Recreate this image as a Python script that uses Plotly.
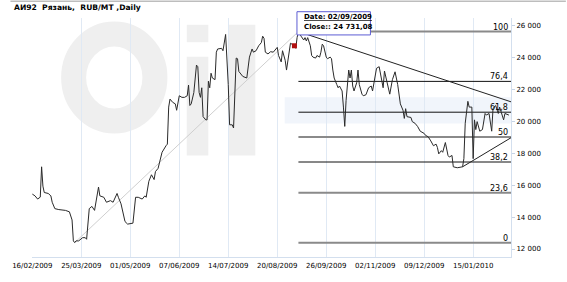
import plotly.graph_objects as go
from datetime import datetime

# ---------------- data ----------------
title_text = "АИ92\u00a0 Рязань,\u00a0 RUB/MT ,Daily"

dates = [
    "2009-02-16", "2009-02-18", "2009-02-20", "2009-02-22", "2009-02-23", "2009-02-24", "2009-02-25",
    "2009-02-28", "2009-03-02", "2009-03-03", "2009-03-05", "2009-03-08", "2009-03-13", "2009-03-16",
    "2009-03-18", "2009-03-19", "2009-03-20", "2009-03-21", "2009-03-23", "2009-03-26", "2009-03-28",
    "2009-03-29", "2009-03-31", "2009-04-02", "2009-04-04", "2009-04-06", "2009-04-07", "2009-04-08",
    "2009-04-11", "2009-04-13", "2009-04-16", "2009-04-18", "2009-04-21", "2009-04-22", "2009-04-24",
    "2009-04-27", "2009-04-29", "2009-05-03", "2009-05-05", "2009-05-07", "2009-05-10", "2009-05-12",
    "2009-05-13", "2009-05-15", "2009-05-17", "2009-05-19", "2009-05-20", "2009-05-22", "2009-05-23",
    "2009-05-25", "2009-05-28", "2009-05-29", "2009-05-30", "2009-05-31", "2009-06-02", "2009-06-04",
    "2009-06-05", "2009-06-07", "2009-06-09", "2009-06-11", "2009-06-13", "2009-06-14", "2009-06-15",
    "2009-06-16", "2009-06-18", "2009-06-20", "2009-06-21", "2009-06-22", "2009-06-23", "2009-06-24",
    "2009-06-25", "2009-06-27", "2009-06-28", "2009-06-29", "2009-06-30", "2009-07-01", "2009-07-02",
    "2009-07-04", "2009-07-05", "2009-07-06", "2009-07-09", "2009-07-10", "2009-07-12", "2009-07-13",
    "2009-07-14", "2009-07-15", "2009-07-17", "2009-07-18", "2009-07-20", "2009-07-21", "2009-07-22",
    "2009-07-25", "2009-07-27", "2009-07-28", "2009-07-30", "2009-08-01", "2009-08-02", "2009-08-04",
    "2009-08-06", "2009-08-08", "2009-08-09", "2009-08-10", "2009-08-11", "2009-08-13", "2009-08-15",
    "2009-08-17", "2009-08-19", "2009-08-20", "2009-08-21", "2009-08-23", "2009-08-24", "2009-08-26",
    "2009-08-27", "2009-08-29", "2009-08-30", "2009-09-02", "2009-09-03", "2009-09-04", "2009-09-05",
    "2009-09-07", "2009-09-09", "2009-09-10", "2009-09-11", "2009-09-12", "2009-09-14", "2009-09-15",
    "2009-09-16", "2009-09-18", "2009-09-19", "2009-09-21", "2009-09-22", "2009-09-23", "2009-09-24",
    "2009-09-26", "2009-09-27", "2009-09-29", "2009-09-30", "2009-10-01", "2009-10-02", "2009-10-04",
    "2009-10-05", "2009-10-06", "2009-10-08", "2009-10-09", "2009-10-10", "2009-10-11", "2009-10-12",
    "2009-10-13", "2009-10-14", "2009-10-15", "2009-10-16", "2009-10-17", "2009-10-19", "2009-10-20",
    "2009-10-21", "2009-10-23", "2009-10-24", "2009-10-26", "2009-10-28", "2009-10-30", "2009-10-31",
    "2009-11-02", "2009-11-03", "2009-11-05", "2009-11-06", "2009-11-08", "2009-11-09", "2009-11-11",
    "2009-11-13", "2009-11-15", "2009-11-17", "2009-11-19", "2009-11-20", "2009-11-21", "2009-11-23",
    "2009-11-24", "2009-11-25", "2009-11-26", "2009-11-29", "2009-11-30", "2009-12-02", "2009-12-04",
    "2009-12-06", "2009-12-09", "2009-12-10", "2009-12-12", "2009-12-14", "2009-12-16", "2009-12-18",
    "2009-12-19", "2009-12-20", "2009-12-22", "2009-12-23", "2009-12-25", "2009-12-27", "2009-12-28",
    "2009-12-30", "2009-12-31", "2010-01-03", "2010-01-07", "2010-01-08", "2010-01-09", "2010-01-11",
    "2010-01-12", "2010-01-14", "2010-01-15", "2010-01-16", "2010-01-17", "2010-01-18", "2010-01-20",
    "2010-01-22", "2010-01-24", "2010-01-25", "2010-01-27", "2010-01-29", "2010-01-30", "2010-02-01",
    "2010-02-03", "2010-02-04", "2010-02-06", "2010-02-07", "2010-02-08", "2010-02-11",
]

closes = [
    15440, 15330, 15130, 15250, 17150, 15940, 15540,
    15480, 15330, 14930, 14530, 14470, 14420, 14330,
    13820, 12510, 12400, 12510, 12510, 12710, 12710,
    12610, 14530, 14670, 14420, 15440, 15880, 15330,
    15240, 14930, 15030, 14930, 15480, 15240, 14830,
    13720, 13560, 13620, 15240, 15240, 15130, 15330,
    15240, 16240, 16650, 16350, 16850, 17050, 17450,
    18060, 18470, 18570, 20890, 21390, 21190, 21090,
    20690, 21600, 21500, 21500, 21600, 22270, 20990,
    21090, 21800, 23520, 23420, 21800, 21500, 22100,
    20290, 20090, 20090, 22510, 22100, 23010, 22710,
    22610, 24330, 24530, 24570, 24420, 25440, 24120,
    22300, 19780, 19780, 19580, 23960, 23920, 23120,
    22810, 22710, 22710, 24020, 24530, 24330, 24420,
    24730, 24930, 25330, 25200, 24330, 24220, 24360,
    24330, 24530, 24630, 24120, 23720, 24420, 23820,
    23210, 24420, 24890, 24731.08, 24570, 25240, 25620,
    25330, 25090, 25240, 25030, 25240, 24730, 24120,
    24020, 23960, 24120, 24020, 24330, 24830, 24730,
    24020, 23920, 24020, 23920, 23210, 22710, 22300,
    22100, 22210, 21900, 20890, 19680, 21300, 22100,
    23210, 22710, 23210, 22210, 21900, 22410, 23210,
    22300, 21700, 21600, 21660, 22100, 22210, 21900,
    23010, 23320, 23420, 22910, 22100, 23150, 22510,
    21700, 22610, 23100, 22300, 21700, 21090, 20690,
    20180, 20790, 20290, 20240, 19980, 19880, 19680,
    19380, 19240, 19120, 19030, 18770, 18470, 18570,
    18360, 17960, 18160, 18060, 18670, 17860, 17760,
    17860, 17150, 17090, 17150, 17660, 19880, 21250,
    20890, 20890, 17660, 20090, 19480, 19980, 19380,
    19480, 20490, 20390, 20490, 19380, 20790, 20990,
    20490, 20890, 20390, 20090, 20490, 20390,
]

tick_dates = ["2009-02-16", "2009-03-25", "2009-05-01", "2009-06-07", "2009-07-14",
              "2009-08-20", "2009-09-26", "2009-11-02", "2009-12-09", "2010-01-15"]
tick_labels = ["16/02/2009", "25/03/2009", "01/05/2009", "07/06/2009", "14/07/2009",
               "20/08/2009", "26/09/2009", "02/11/2009", "09/12/2009", "15/01/2010"]
y_ticks = [12000, 14000, 16000, 18000, 20000, 22000, 24000, 26000]

fib_ratios = [0.0, 0.236, 0.382, 0.5, 0.618, 0.764, 1.0]
fib_labels = ["0", "23,6", "38,2", "50", "61,8", "76,4", "100"]

hover_date = "2009-09-02"
upper_trend_dates = ["2009-09-05", "2010-02-12 14:00"]
upper_trend_vals = [25620, 21220]
lower_trend_dates = ["2010-01-07", "2010-02-12 14:00"]
lower_trend_vals = [17150, 18970]

x_range = ["2009-02-15 18:00", "2010-02-12 14:00"]
y_range = [11500, 26470]

# ---------------- layout helpers ----------------
W, H = 567, 282
ML, MR, MT, MB = 22, 56, 18, 17
PW, PH = W - ML - MR, H - MT - MB

def px(x):
    return (x - ML) / PW

def py(y):
    return (H - MB - y) / PH

FONT = "DejaVu Sans"

lo_i = closes.index(min(closes))
hi_i = closes.index(max(closes))
lo, hi = closes[lo_i], closes[hi_i]
fib_levels = [lo + r * (hi - lo) for r in fib_ratios]

fig = go.Figure()

# low-to-high guide line
fig.add_trace(go.Scatter(x=[dates[lo_i], dates[hi_i]], y=[lo, hi], mode="lines",
                         line=dict(color="#cfcfcf", width=1), hoverinfo="skip"))

# fibonacci levels
for lvl, lab in zip(fib_levels, fib_labels):
    thick = lab in ("0", "23,6", "50", "100")
    fig.add_trace(go.Scatter(x=[dates[hi_i], x_range[1]], y=[lvl, lvl], mode="lines",
                             line=dict(color="#8a8a8a" if thick else "#111111",
                                       width=2 if thick else 1),
                             hoverinfo="skip"))
    fig.add_annotation(x=1, xref="paper", y=lvl, yref="y", text=lab, showarrow=False,
                       xanchor="right", yanchor="bottom", xshift=-1, yshift=-2,
                       font=dict(family=FONT, size=8, color="#000"))

# trend lines
fig.add_trace(go.Scatter(x=upper_trend_dates, y=upper_trend_vals, mode="lines",
                         line=dict(color="#222", width=1), hoverinfo="skip"))
fig.add_trace(go.Scatter(x=lower_trend_dates, y=lower_trend_vals, mode="lines",
                         line=dict(color="#222", width=1), hoverinfo="skip"))

# price line
fig.add_trace(go.Scatter(x=dates, y=closes, mode="lines",
                         line=dict(color="#2a2a2a", width=1)))

# hover marker
hv = closes[dates.index(hover_date)]
fig.add_trace(go.Scatter(x=[hover_date], y=[hv], mode="markers",
                         marker=dict(symbol="square", size=5, color="#b01010")))

# tooltip
d = datetime.strptime(hover_date, "%Y-%m-%d")
val_txt = f"{hv:,.2f}".replace(",", " ").replace(".", ",")
shapes = []
shapes.append(dict(type="rect", xref="paper", yref="paper",
                   x0=px(292.5), x1=px(367.5), y0=py(35.5), y1=py(11.5),
                   line=dict(color="#5c5cd4", width=1), fillcolor="white", layer="above"))
fig.add_annotation(xref="paper", yref="paper", x=px(298), y=py(16.7), xanchor="left", yanchor="middle",
                   text="<b><u>Date: " + d.strftime("%d/%m/%Y") + "</u></b>", showarrow=False,
                   font=dict(family=FONT, size=7, color="#000"))
fig.add_annotation(xref="paper", yref="paper", x=px(298), y=py(27.3), xanchor="left", yanchor="middle",
                   text="<b>Close:: " + val_txt + "</b>", showarrow=False,
                   font=dict(family=FONT, size=7, color="#000"))

# title
fig.add_annotation(xref="paper", yref="paper", x=px(1.5), y=py(7), xanchor="left", yanchor="middle",
                   text="<b>" + title_text + "</b>", showarrow=False,
                   font=dict(family=FONT, size=7.6, color="#000"))

# watermark (decorative, below everything)
wm = "#efefef"
shapes += [
    dict(type="circle", xref="paper", yref="paper", x0=px(64.5), x1=px(147.5), y0=py(124.5), y1=py(34.5),
         line=dict(color=wm, width=25), layer="below"),
    dict(type="rect", xref="paper", yref="paper", x0=px(180), x1=px(202), y0=py(43), y1=py(25),
         line=dict(width=0), fillcolor=wm, layer="below"),
    dict(type="rect", xref="paper", yref="paper", x0=px(180), x1=px(202), y0=py(160), y1=py(58),
         line=dict(width=0), fillcolor=wm, layer="below"),
    dict(type="rect", xref="paper", yref="paper", x0=px(223), x1=px(250), y0=py(160), y1=py(25),
         line=dict(width=0), fillcolor=wm, layer="below"),
    dict(type="rect", xref="paper", yref="paper", x0=px(280), x1=px(511), y0=py(127), y1=py(100),
         line=dict(width=0), fillcolor="#f1f5fb", layer="below"),
    dict(type="line", xref="paper", yref="paper", x0=px(0), x1=px(W), y0=py(0.7), y1=py(0.7),
         line=dict(color="#bdbdbd", width=1.5), layer="above"),
]

fig.update_layout(
    width=W, height=H, autosize=False,
    margin=dict(l=ML, r=MR, t=MT, b=MB, pad=0),
    paper_bgcolor="white", plot_bgcolor="rgba(0,0,0,0)",
    showlegend=False, separators=", ",
    shapes=shapes,
    xaxis=dict(type="date", range=x_range, tickvals=tick_dates, ticktext=tick_labels,
               showgrid=True, gridcolor="#e0e9f4", gridwidth=1,
               showline=True, linecolor="#d3dfee", linewidth=1,
               ticks="outside", ticklen=2, tickcolor="rgba(0,0,0,0)",
               tickfont=dict(family=FONT, size=7, color="#000"), zeroline=False, fixedrange=True),
    yaxis=dict(range=y_range, side="right", tickvals=y_ticks, tickformat=",d",
               showgrid=False, showline=True, linecolor="#d3dfee", linewidth=1,
               ticks="outside", ticklen=3, tickcolor="#c6d4e6",
               tickfont=dict(family=FONT, size=7, color="#000"), zeroline=False, fixedrange=True),
)

fig.write_html("out.html")
